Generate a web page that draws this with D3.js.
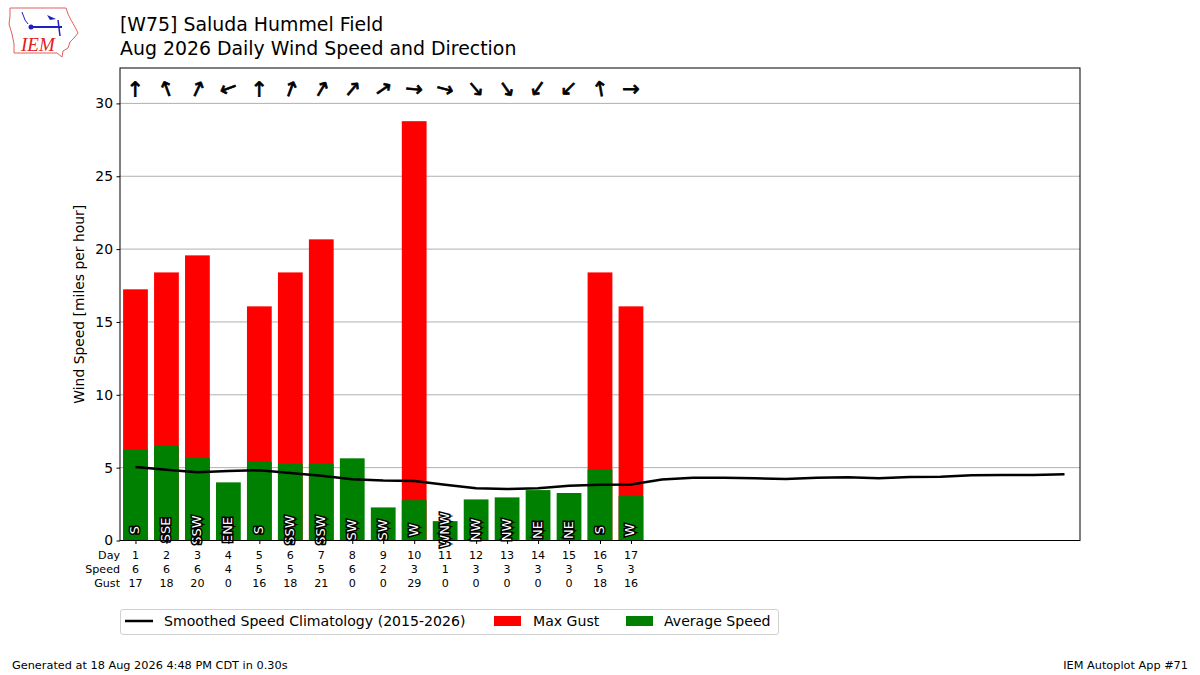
<!DOCTYPE html>
<html>
<head>
<meta charset="utf-8">
<script src="https://cdn.jsdelivr.net/npm/d3@7"></script>
<style>
  body { margin: 0; background: #fff; }
  svg { font-family: "DejaVu Sans", sans-serif; }
</style>
</head>
<body>
<div class="chart"></div>
<script>
// daily observations for Aug 2026
var days = [1, 2, 3, 4, 5, 6, 7, 8, 9, 10, 11, 12, 13, 14, 15, 16, 17];
var avgSpeed = [6.26, 6.49, 5.66, 3.99, 5.39, 5.28, 5.28, 5.64, 2.27, 2.77, 1.33, 2.82, 2.96, 3.46, 3.26, 4.87, 3.05];
var maxGust = [17.24, 18.4, 19.57, 0, 16.07, 18.4, 20.67, 0, 0, 28.78, 0, 0, 0, 0, 0, 18.4, 16.07];
var windDir = [180, 160, 205, 70, 180, 200, 210, 220, 235, 275, 285, 320, 325, 35, 45, 170, 270];
var dirText = ["S", "SSE", "SSW", "ENE", "S", "SSW", "SSW", "SW", "SW", "W", "WNW", "NW", "NW", "NE", "NE", "S", "W"];

// smoothed climatology, days 1..31
var climoDays = d3.range(1, 32);
var climoSpeed = [5.04, 4.86, 4.68, 4.77, 4.82, 4.63, 4.45, 4.2, 4.11, 4.08, 3.83, 3.58, 3.53, 3.58, 3.76, 3.83, 3.85,
                  4.18, 4.31, 4.31, 4.27, 4.22, 4.31, 4.34, 4.27, 4.36, 4.38, 4.47, 4.49, 4.49, 4.54];

var yTicks = [0, 5, 10, 15, 20, 25, 30];

function drawChart() {
    var width = 1200, height = 675;
    var plotLeft = 120, plotRight = 1080, plotTop = 68, plotBottom = 540.5;

    var svg = d3.select(".chart").append("svg")
        .attr("width", width)
        .attr("height", height);

    var x = d3.scaleLinear().domain([0.5, 31.5]).range([plotLeft, plotRight]);
    var y = d3.scaleLinear().domain([0, 32.43]).range([plotBottom, plotTop]);
    var barW = (x(2) - x(1)) * 0.8;

    //////// gridlines
    svg.append("g").selectAll("line")
        .data(yTicks.filter(function(d) { return d > 0; }))
        .enter().append("line")
        .attr("x1", plotLeft).attr("x2", plotRight)
        .attr("y1", function(d) { return y(d); })
        .attr("y2", function(d) { return y(d); })
        .attr("stroke", "#b0b0b0")
        .attr("stroke-width", 1);

    //////// bars: gust first, average speed on top
    svg.append("g").selectAll("rect")
        .data(days)
        .enter().append("rect")
        .attr("x", function(d) { return x(d) - barW / 2; })
        .attr("width", barW)
        .attr("y", function(d, i) { return y(maxGust[i]); })
        .attr("height", function(d, i) { return y(0) - y(maxGust[i]); })
        .attr("fill", "#ff0000");

    svg.append("g").selectAll("rect")
        .data(days)
        .enter().append("rect")
        .attr("x", function(d) { return x(d) - barW / 2; })
        .attr("width", barW)
        .attr("y", function(d, i) { return y(avgSpeed[i]); })
        .attr("height", function(d, i) { return y(0) - y(avgSpeed[i]); })
        .attr("fill", "#008000");

    //////// climatology line
    var line = d3.line()
        .x(function(d) { return x(d); })
        .y(function(d, i) { return y(climoSpeed[i]); });

    svg.append("path")
        .datum(climoDays)
        .attr("d", line)
        .attr("fill", "none")
        .attr("stroke", "#000")
        .attr("stroke-width", 2.5);

    //////// direction text inside bars
    svg.append("g").selectAll("text")
        .data(days)
        .enter().append("text")
        .attr("transform", function(d) { return "translate(" + (x(d) - 1) + "," + y(0.72) + ") rotate(-90)"; })
        .attr("text-anchor", "middle")
        .attr("dominant-baseline", "central")
        .attr("font-size", "13px")
        .attr("fill", "#fff")
        .attr("stroke", "#000")
        .attr("stroke-width", 3)
        .attr("paint-order", "stroke")
        .text(function(d, i) { return dirText[i]; });

    //////// arrows (point where wind blows toward)
    svg.append("g").selectAll("text")
        .data(days)
        .enter().append("text")
        .attr("transform", function(d, i) { return "translate(" + x(d) + "," + y(31) + ") rotate(" + (windDir[i] + 90) + ")"; })
        .attr("text-anchor", "middle")
        .attr("dominant-baseline", "central")
        .attr("font-size", "21px")
        .attr("fill", "#000")
        .attr("stroke", "#000")
        .attr("stroke-width", 0.7)
        .text("\u2192");

    //////// frame
    svg.append("rect")
        .attr("x", plotLeft).attr("y", plotTop)
        .attr("width", plotRight - plotLeft).attr("height", plotBottom - plotTop)
        .attr("fill", "none")
        .attr("stroke", "#000")
        .attr("stroke-width", 1);

    //////// y axis
    var yAxis = d3.axisLeft(y).tickValues(yTicks).tickSize(3.5).tickPadding(3.5);
    var yg = svg.append("g")
        .attr("transform", "translate(" + plotLeft + ",0)")
        .call(yAxis);
    yg.select(".domain").remove();
    yg.selectAll("text").attr("font-size", "13.9px").attr("font-family", "DejaVu Sans").attr("fill", "#000");
    yg.selectAll("line").attr("stroke", "#000");

    // small day ticks under the bars
    var xAxis = d3.axisBottom(x).tickValues(days).tickSize(3.5).tickFormat("");
    var xg = svg.append("g")
        .attr("transform", "translate(0," + plotBottom + ")")
        .call(xAxis);
    xg.select(".domain").remove();
    xg.selectAll("line").attr("stroke", "#000");

    svg.append("text")
        .attr("transform", "translate(84," + ((plotTop + plotBottom) / 2) + ") rotate(-90)")
        .attr("text-anchor", "middle")
        .attr("font-size", "13.9px")
        .text("Wind Speed [miles per hour]");

    //////// table under the axis
    var rows = [
        { label: "Day", y: 559, vals: days },
        { label: "Speed", y: 573, vals: avgSpeed.map(function(v) { return Math.round(v); }) },
        { label: "Gust", y: 587, vals: maxGust.map(function(v) { return Math.round(v); }) }
    ];
    rows.forEach(function(r) {
        svg.append("text")
            .attr("x", plotLeft).attr("y", r.y)
            .attr("text-anchor", "end")
            .attr("font-size", "11.1px")
            .text(r.label);
        svg.append("g").selectAll("text")
            .data(r.vals)
            .enter().append("text")
            .attr("x", function(d, i) { return x(days[i]); })
            .attr("y", r.y)
            .attr("text-anchor", "middle")
            .attr("font-size", "11.1px")
            .text(function(d) { return d; });
    });

    //////// titles
    svg.append("text").attr("x", 120).attr("y", 31).attr("font-size", "18.9px").text("[W75] Saluda Hummel Field");
    svg.append("text").attr("x", 120).attr("y", 55).attr("font-size", "18.9px").text("Aug 2026 Daily Wind Speed and Direction");

    //////// legend
    var lg = svg.append("g");
    lg.append("rect")
        .attr("x", 120.5).attr("y", 609.5).attr("width", 658).attr("height", 25)
        .attr("rx", 2.5)
        .attr("fill", "#fff").attr("stroke", "#d0d0d0");
    lg.append("line").attr("x1", 125).attr("x2", 153).attr("y1", 621).attr("y2", 621)
        .attr("stroke", "#000").attr("stroke-width", 2.5);
    lg.append("text").attr("x", 164).attr("y", 626).attr("font-size", "14.1px").text("Smoothed Speed Climatology (2015-2026)");
    lg.append("rect").attr("x", 494).attr("y", 616).attr("width", 27).attr("height", 10).attr("fill", "#ff0000");
    lg.append("text").attr("x", 533).attr("y", 626).attr("font-size", "14.1px").text("Max Gust");
    lg.append("rect").attr("x", 626).attr("y", 616).attr("width", 27).attr("height", 10).attr("fill", "#008000");
    lg.append("text").attr("x", 664).attr("y", 626).attr("font-size", "14.1px").text("Average Speed");

    //////// footer
    svg.append("text").attr("x", 12).attr("y", 669).attr("font-size", "11.3px").text("Generated at 18 Aug 2026 4:48 PM CDT in 0.30s");
    svg.append("text").attr("x", 1188).attr("y", 669).attr("text-anchor", "end").attr("font-size", "11.3px").text("IEM Autoplot App #71");

    //////// logo (rough Iowa outline)
    var logo = svg.append("g");
    logo.append("path")
        .attr("d", "M 10 8 L 66 8 L 68 14 L 71 20 L 75 27 L 78 33 L 74 38 L 70 42 L 68 48 L 63 51 L 62 57 L 57 53 L 14 53 L 14 44 L 12 34 L 9 24 L 10 16 Z")
        .attr("fill", "none").attr("stroke", "#e06060").attr("stroke-width", 1);
    logo.append("line").attr("x1", 31).attr("x2", 62).attr("y1", 27).attr("y2", 27).attr("stroke", "#2020c0").attr("stroke-width", 2);
    logo.append("circle").attr("cx", 31).attr("cy", 27).attr("r", 2.5).attr("fill", "#2020c0");
    logo.append("line").attr("x1", 58).attr("x2", 60).attr("y1", 20).attr("y2", 36).attr("stroke", "#2020c0").attr("stroke-width", 1.5);
    logo.append("path").attr("d", "M 47 15 L 56 19 L 50 20 Z").attr("fill", "#2020c0");
    logo.append("path").attr("d", "M 22 12 L 25 20 L 28 24").attr("fill", "none").attr("stroke", "#2020c0").attr("stroke-width", 1);
    logo.append("text").attr("x", 21).attr("y", 51).attr("font-family", "Liberation Serif, serif")
        .attr("font-style", "italic").attr("font-size", "19px").attr("fill", "#e02020").text("IEM");
}

drawChart();
</script>
</body>
</html>
